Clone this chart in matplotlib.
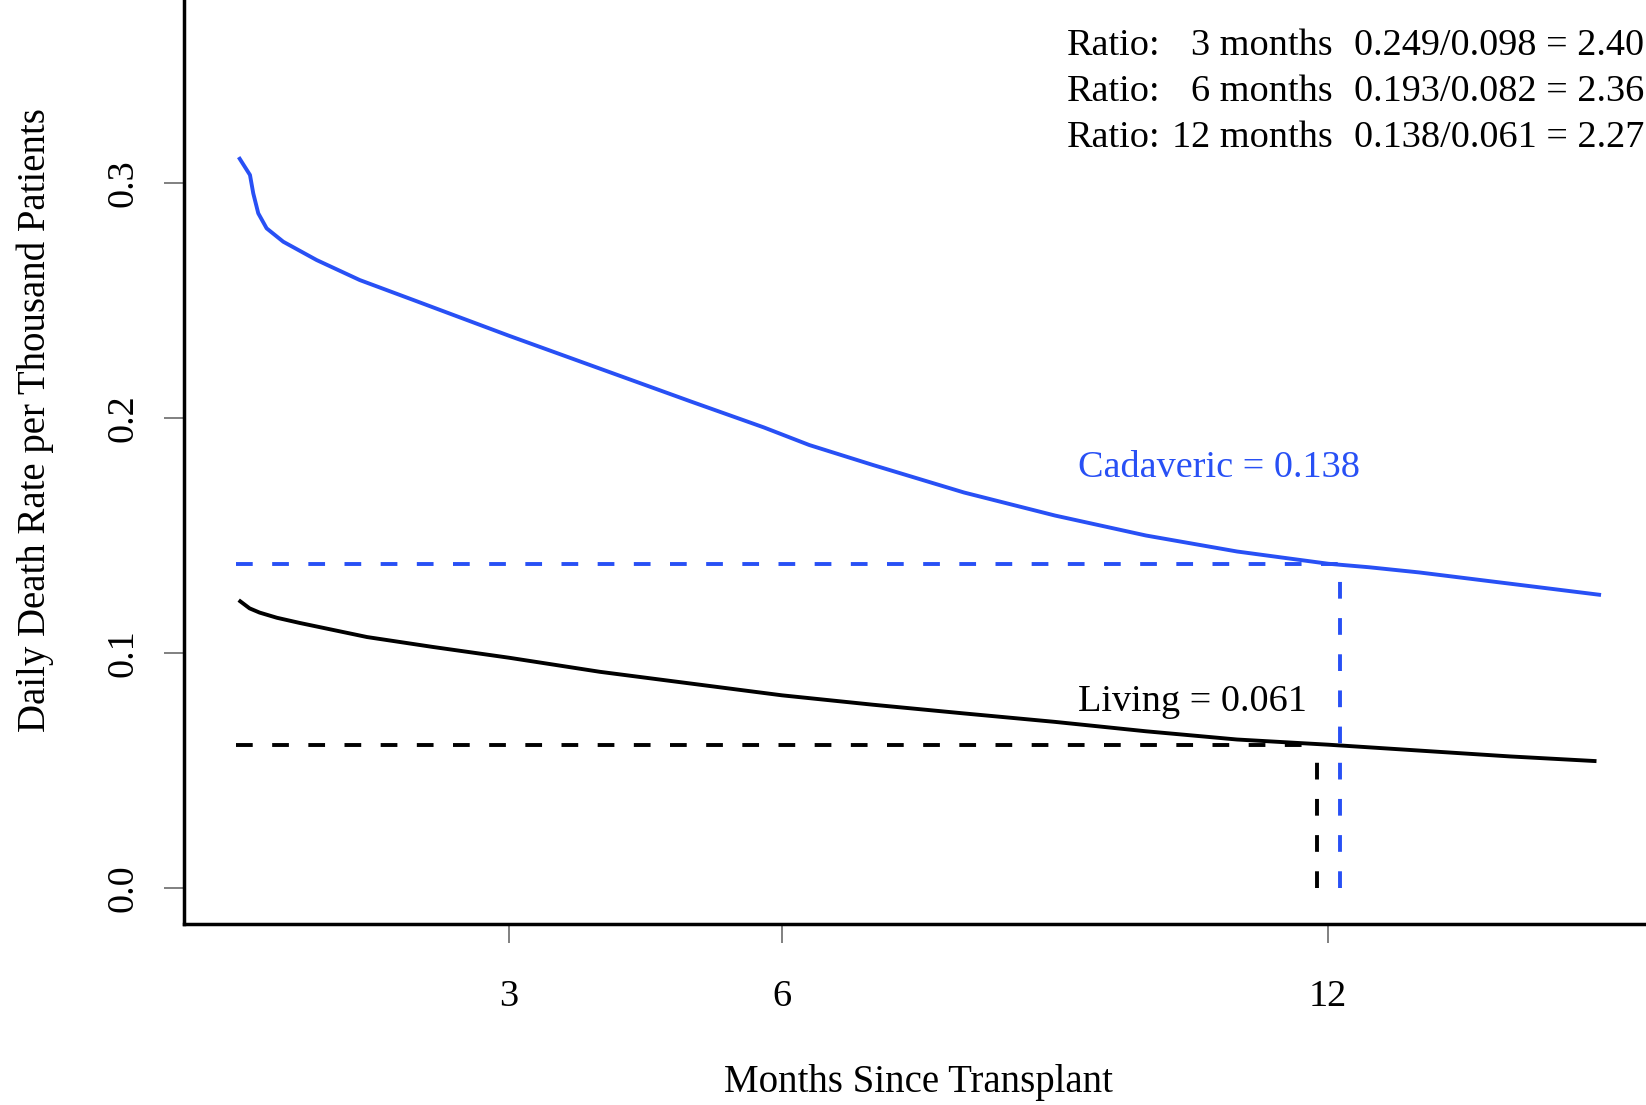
import numpy as np
import matplotlib
matplotlib.use("Agg")
import matplotlib.pyplot as plt

# ----- data -----
cad_months = [0.03, 0.154, 0.19, 0.245, 0.337, 0.52, 0.887, 1.36, 1.95, 3.0, 4.0,
              5.0, 5.8, 6.0, 6.3, 7.0, 8.0, 9.0, 10.0, 11.0, 12.0, 12.45,
              13.0, 14.0, 15.0]
cad_rate = [0.311, 0.3034, 0.2956, 0.2871, 0.2807, 0.275, 0.2672, 0.2587, 0.2502,
            0.235, 0.221, 0.207, 0.196, 0.193, 0.1885, 0.180, 0.1683, 0.1585,
            0.150, 0.1432, 0.138, 0.1365, 0.1343, 0.1295, 0.1247]

liv_months = [0.03, 0.15, 0.26, 0.45, 0.70, 1.44, 2.16, 3.0, 4.0, 5.0, 6.0, 7.0,
              8.0, 9.0, 10.0, 11.0, 12.0, 13.0, 14.0, 14.95]
liv_rate = [0.1225, 0.119, 0.1172, 0.115, 0.1128, 0.1068, 0.1026, 0.098, 0.092,
            0.087, 0.082, 0.078, 0.0743, 0.0707, 0.0667, 0.0632, 0.061, 0.0585,
            0.056, 0.054]

cad_12 = 0.138
liv_12 = 0.061
ratio_months = ["3 months", "6 months", "12 months"]
ratio_text = ["0.249/0.098 = 2.40", "0.193/0.082 = 2.36", "0.138/0.061 = 2.27"]

xticks = [3, 6, 12]
yticks = [0.0, 0.1, 0.2, 0.3]

BLUE = "#2850F5"
FS = 27.5
LW = 2.8
DASH = (4.3, 5.0)

plt.rcParams["font.family"] = ["Liberation Serif", "DejaVu Serif"]

fig = plt.figure(figsize=(16.46, 11.05), dpi=100)
# plot region extends a bit past the top/right edges (reference is cropped)
ax = fig.add_axes([184 / 1646, 1 - 924 / 1105, 1468 / 1646, 1008 / 1105])
ax.set_xlim(-0.571, 15.56)
ax.set_ylim(-0.0153, 0.4136)

ax.plot(cad_months, cad_rate, color=BLUE, lw=LW, solid_capstyle="butt",
        solid_joinstyle="round")
ax.plot(liv_months, liv_rate, color="black", lw=LW, solid_capstyle="butt",
        solid_joinstyle="round")

# reference lines at 12 months
ax.plot([0, 12.13], [cad_12, cad_12], color=BLUE, lw=LW, dashes=DASH)
ax.plot([12.13, 12.13], [0, cad_12], color=BLUE, lw=LW, dashes=DASH)
ax.plot([0, 11.88], [liv_12, liv_12], color="black", lw=LW, dashes=DASH)
ax.plot([11.88, 11.88], [0, liv_12], color="black", lw=LW, dashes=DASH)

ax.text(9.25, 0.1749, "Cadaveric = %.3f" % cad_12, color=BLUE, fontsize=FS,
        va="baseline", ha="left")
ax.text(9.25, 0.0755, "Living = %.3f" % liv_12, color="black", fontsize=FS,
        va="baseline", ha="left")

ys = [0.3545, 0.3349, 0.3153]
for y, m, r in zip(ys, ratio_months, ratio_text):
    ax.text(9.13, y, "Ratio:", fontsize=FS, va="baseline", ha="left")
    ax.text(12.05, y, m, fontsize=FS, va="baseline", ha="right")
    ax.text(12.29, y, r, fontsize=FS, va="baseline", ha="left")

# axes styling, R-like L box
for s in ["top", "right"]:
    ax.spines[s].set_visible(False)
for s in ["left", "bottom"]:
    ax.spines[s].set_linewidth(2.5)
    ax.spines[s].set_capstyle("projecting")

ax.set_xticks(xticks)
ax.set_xticklabels([str(t) for t in xticks])
ax.set_yticks(yticks)
ax.set_yticklabels(["%.1f" % t for t in yticks])
ax.tick_params(axis="x", length=13.7, width=1.4, color="#808080", pad=26,
               labelsize=FS)
ax.tick_params(axis="y", length=14.4, width=1.4, color="#808080", pad=17,
               labelsize=FS)
plt.setp(ax.get_yticklabels(), rotation=90, va="center")

ax.set_xlabel("Months Since Transplant", fontsize=FS + 0.5, va="center")
ax.xaxis.set_label_coords(0.5, -0.157)
ax.set_ylabel("Daily Death Rate per Thousand Patients", fontsize=FS + 0.5,
              va="center")
ax.yaxis.set_label_coords(-0.1013, 0.5)

fig.savefig("out.png", dpi=100)
